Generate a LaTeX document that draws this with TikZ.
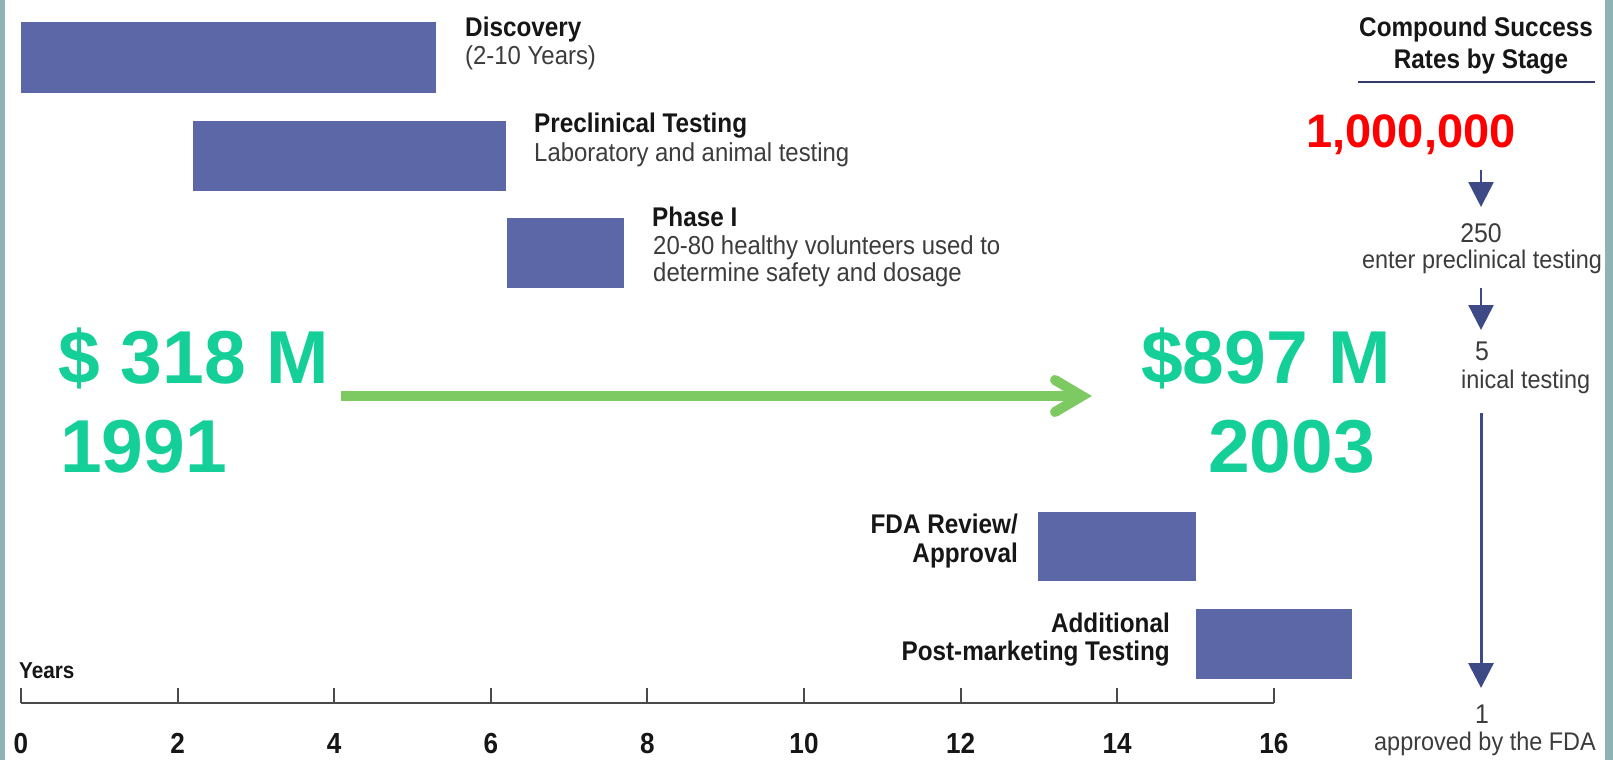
\documentclass[tikz,border=0pt]{standalone}
\usepackage{fontspec}
\setmainfont{Liberation Sans}
\newfontfamily\condsans[FakeStretch=0.9]{Liberation Sans}
\newfontfamily\notesans[FakeStretch=0.92]{Liberation Sans}
\usetikzlibrary{arrows.meta}

\definecolor{barblue}{HTML}{5B67A6}
\definecolor{money}{HTML}{14CF98}
\definecolor{trend}{HTML}{7DC962}
\definecolor{frameteal}{HTML}{8FB3B5}
\definecolor{stagenavy}{HTML}{3E4A86}
\definecolor{axisgray}{HTML}{4A4A4A}
\definecolor{inkgray}{HTML}{3C3C3C}
\definecolor{inkdark}{HTML}{161616}

\begin{document}
\begin{tikzpicture}[x=1pt,y=-1pt,
  bar/.style={fill=barblue,draw=none},
  phasetitle/.style={inner sep=0,font=\condsans\fontsize{27}{30}\selectfont\bfseries,text=inkdark},
  phasenote/.style={inner sep=0,font=\notesans\fontsize{26}{30}\selectfont,text=inkgray},
  bigmoney/.style={inner sep=0,anchor=base west,font=\fontsize{75}{80}\selectfont\bfseries,text=money},
  stagenum/.style={inner sep=0,anchor=base,font=\notesans\fontsize{27}{30}\selectfont,text=inkgray},
  stagenote/.style={inner sep=0,anchor=base,font=\notesans\fontsize{25.5}{30}\selectfont,text=inkgray},
  stagearrow/.style={stagenavy,line width=2.5pt,-{Triangle[width=25pt,length=25pt]}},
  ticklabel/.style={inner sep=0,anchor=base,font=\condsans\fontsize{29}{30}\selectfont\bfseries,text=inkdark},
]
% canvas and side frame strips
\useasboundingbox (0,0) rectangle (1613,760);
\fill[white] (0,0) rectangle (1613,760);
\fill[frameteal] (0,0) rectangle (5,760);
\fill[frameteal] (1605,0) rectangle (1613,760);

% timeline bars (one year = 78.3 units, year 0 at x = 21)
\path[bar] (21,22)   rectangle (436,93);
\path[bar] (193,121) rectangle (506,191);
\path[bar] (507,218) rectangle (624,288);
\path[bar] (1038,512) rectangle (1196,581);
\path[bar] (1196,609) rectangle (1352,679);

% phase labels
\node[phasetitle,anchor=base west] (discT) at (465,37) {Discovery};
\node[phasenote,anchor=base west]  (discN) at (465,65) {(2-10 Years)};
\node[phasetitle,anchor=base west] (preT)  at (534,132) {Preclinical Testing};
\node[phasenote,anchor=base west]  (preN)  at (534,161) {Laboratory and animal testing};
\node[phasetitle,anchor=base west] (ph1T)  at (652,226) {Phase I};
\node[phasenote,anchor=base west]  (ph1N)  at (653,254) {20-80 healthy volunteers used to};
\node[phasenote,anchor=base west]  (ph1M)  at (653,281) {determine safety and dosage};
\node[phasetitle,anchor=base east] (fdaT)  at (1018,533) {FDA Review/};
\node[phasetitle,anchor=base east] (fdaA)  at (1018,562) {Approval};
\node[phasetitle,anchor=base east] (postT) at (1170,632) {Additional};
\node[phasetitle,anchor=base east] (postN) at (1170,660) {Post-marketing Testing};

% time axis
\coordinate (ax0) at (21,703);
\coordinate (ax16) at (1274,703);
\draw[axisgray,line width=2.5pt] (ax0) -- (ax16);
\foreach \yr in {0,2,...,16}{
  \draw[axisgray,line width=2pt] (21+78.3*\yr,703) -- (21+78.3*\yr,688);
  \node[ticklabel] (tick\yr) at (21+78.3*\yr,753) {\yr};
}
\node[inner sep=0,anchor=base west,font=\condsans\fontsize{23}{26}\selectfont\bfseries,text=inkdark] (years) at (19,678) {Years};

% development cost figures
\node[bigmoney] (costA) at (58,383) {\$ 318 M};
\node[bigmoney] (yearA) at (60,472) {1991};
\node[bigmoney] (costB) at (1141,383) {\$897 M};
\node[bigmoney] (yearB) at (1208,472) {2003};
\coordinate (trendS) at (341,396);
\coordinate (trendE) at (1082,396);
\draw[trend,line width=10pt] (trendS) -- (trendE);
\draw[trend,line width=10pt,line cap=round,line join=miter]
  (1055,380) -- (trendE) -- (1055,412);

% compound attrition column
\node[inner sep=0,anchor=base,font=\condsans\fontsize{27}{30}\selectfont\bfseries,text=inkdark] (csr1) at (1476,37) {Compound Success};
\node[inner sep=0,anchor=base,font=\condsans\fontsize{27}{30}\selectfont\bfseries,text=inkdark] (csr2) at (1481,68) {Rates by Stage};
\coordinate (ulS) at (1358,82);
\coordinate (ulE) at (1595,82);
\draw[stagenavy!80!black,line width=2.5pt] (ulS) -- (ulE);

\node[inner sep=0,anchor=base,font=\fontsize{47}{50}\selectfont\bfseries,text=red] (million) at (1411,147) {1,000,000};

\coordinate (a1s) at (1481,170);
\coordinate (a1e) at (1481,207);
\draw[stagearrow] (a1s) -- (a1e);
\node[stagenum]  (n250) at (1481,242) {250};
\node[stagenote] (t250) at (1482,268) {enter preclinical testing};

\coordinate (a2s) at (1481,288);
\coordinate (a2e) at (1481,330);
\draw[stagearrow] (a2s) -- (a2e);
\node[stagenum] (n5) at (1482,360) {5};
\node[stagenote,anchor=base west] (t5) at (1461,388) {inical testing};

\coordinate (a3s) at (1481,413);
\coordinate (a3e) at (1481,688);
\draw[stagearrow,line width=3pt] (a3s) -- (a3e);
\node[stagenum] (n1) at (1482,723) {1};
\node[stagenote] (t1) at (1485,750) {approved by the FDA};
\end{tikzpicture}
\end{document}
